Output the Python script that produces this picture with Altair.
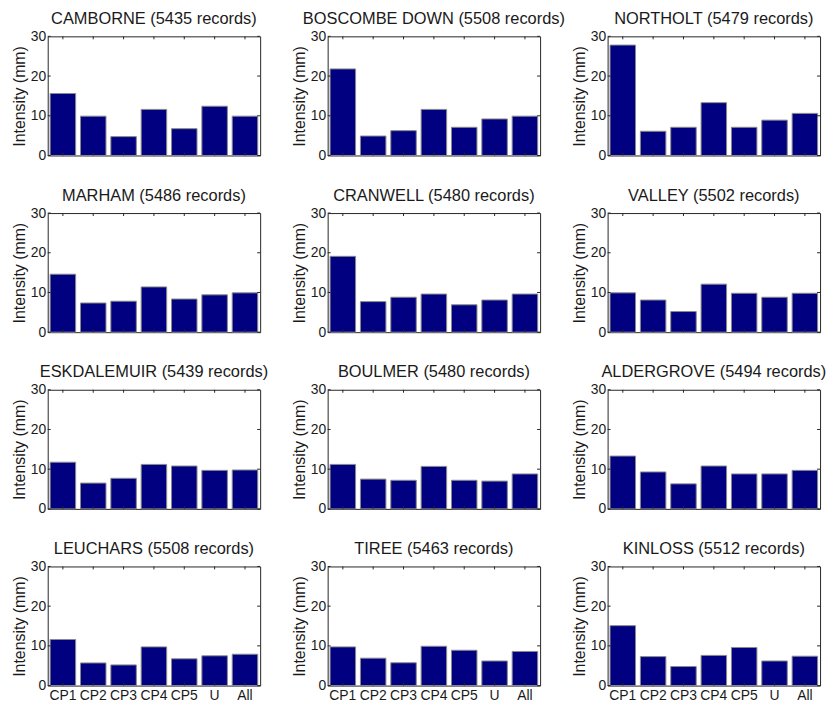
import altair as alt
import pandas as pd

categories = ["CP1", "CP2", "CP3", "CP4", "CP5", "U", "All"]

stations = ["CAMBORNE", "BOSCOMBE DOWN", "NORTHOLT",
            "MARHAM", "CRANWELL", "VALLEY",
            "ESKDALEMUIR", "BOULMER", "ALDERGROVE",
            "LEUCHARS", "TIREE", "KINLOSS"]
records = [5435, 5508, 5479,
           5486, 5480, 5502,
           5439, 5480, 5494,
           5508, 5463, 5512]

camborne = [15.6, 9.9, 4.75, 11.6, 6.75, 12.4, 9.9]
boscombe = [21.8, 4.9, 6.25, 11.6, 7.1, 9.2, 9.9]
northolt = [27.8, 6.1, 7.1, 13.3, 7.1, 8.9, 10.6]
marham = [14.6, 7.35, 7.8, 11.4, 8.35, 9.4, 9.9]
cranwell = [19.1, 7.7, 8.8, 9.6, 6.9, 8.1, 9.6]
valley = [9.9, 8.1, 5.2, 12.1, 9.8, 8.8, 9.8]
eskdalemuir = [11.75, 6.5, 7.7, 11.2, 10.8, 9.7, 9.8]
boulmer = [11.2, 7.5, 7.2, 10.7, 7.2, 7.0, 8.8]
aldergrove = [13.3, 9.3, 6.3, 10.8, 8.8, 8.8, 9.7]
leuchars = [11.6, 5.7, 5.2, 9.75, 6.75, 7.5, 7.9]
tiree = [9.75, 6.9, 5.75, 9.9, 8.9, 6.2, 8.6]
kinloss = [15.1, 7.3, 4.8, 7.6, 9.6, 6.2, 7.4]

series = [camborne, boscombe, northolt, marham, cranwell, valley,
          eskdalemuir, boulmer, aldergrove, leuchars, tiree, kinloss]

y_ticks = [0, 10, 20, 30]

W, H = 214, 120
FONT = "Liberation Sans"
TXT = "#1a1a1a"


def panel(i, bottom):
    df = pd.DataFrame({"cat": categories, "value": series[i]})
    xscale = alt.Scale(domain=categories, paddingInner=0.16, paddingOuter=0.08)
    yscale = alt.Scale(domain=[0, 30], nice=False)
    xaxis = alt.Axis(labels=bottom, ticks=False, domain=False, title=None,
                     labelAngle=0, labelFontSize=14, labelPadding=3,
                     labelColor=TXT, labelFont=FONT)
    yaxis = alt.Axis(values=y_ticks, ticks=False, domain=False, grid=False,
                     title="Intensity (mm)", titleFontSize=16,
                     titleFontWeight="normal", titleFont=FONT, titleColor=TXT,
                     titlePadding=3, labelFontSize=14, labelPadding=2,
                     labelColor=TXT, labelFont=FONT)
    bars = alt.Chart(df).mark_bar(
        color="#000080", stroke="#8a8a8a", strokeWidth=1
    ).encode(
        x=alt.X("cat:N", sort=categories, scale=xscale, axis=xaxis),
        y=alt.Y("value:Q", scale=yscale, axis=yaxis),
    )
    tdf = pd.DataFrame({"value": y_ticks})
    yt_left = alt.Chart(tdf).mark_rule(color="#262626", strokeWidth=1).encode(
        y=alt.Y("value:Q", scale=yscale, axis=yaxis),
        x=alt.value(0), x2=alt.value(3))
    yt_right = alt.Chart(tdf).mark_rule(color="#262626", strokeWidth=1).encode(
        y=alt.Y("value:Q", scale=yscale, axis=yaxis),
        x=alt.value(W - 3), x2=alt.value(W))
    cdf = pd.DataFrame({"cat": categories})
    xt_top = alt.Chart(cdf).mark_rule(color="#262626", strokeWidth=1).encode(
        x=alt.X("cat:N", sort=categories, scale=xscale, axis=xaxis, bandPosition=0.5),
        y=alt.value(0), y2=alt.value(3))
    xt_bot = alt.Chart(cdf).mark_rule(color="#262626", strokeWidth=1).encode(
        x=alt.X("cat:N", sort=categories, scale=xscale, axis=xaxis, bandPosition=0.5),
        y=alt.value(H - 3), y2=alt.value(H))
    return alt.layer(bars, yt_left, yt_right, xt_top, xt_bot).properties(
        width=W, height=H,
        title=alt.TitleParams(f"{stations[i]} ({records[i]} records)",
                              fontSize=16.5, fontWeight="normal", font=FONT,
                              color=TXT, offset=2),
    )


panels = [panel(i, i >= 9) for i in range(12)]

chart = alt.concat(*panels, columns=3, spacing={"row": 58, "column": 68},
                   bounds="flush").properties(
    padding={"left": 2, "top": 0, "right": 0, "bottom": 0}
).configure(
    background="white",
    view=alt.ViewConfig(stroke="#262626", strokeWidth=1),
)

chart.save("out.html", embed_options={"renderer": "svg", "actions": False})
